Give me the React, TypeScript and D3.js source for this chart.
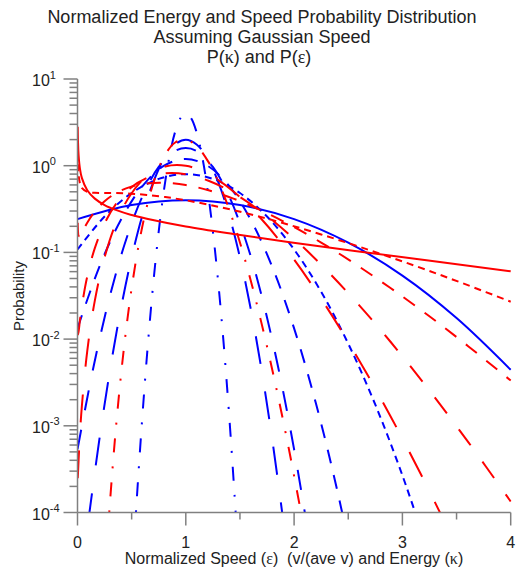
import React from "react";
import * as d3 from "d3";

// ---- Speed distributions P(ε) (blue), one per Gaussian width ----
const speedS100X = [0, 0.5, 1, 1.5, 2, 2.5, 3, 3.5, 4];
const speedS100P = [0.242, 0.352, 0.399, 0.352, 0.242, 0.1295, 0.054, 0.0175, 0.00443];

const speedS050X = [0, 0.25, 0.5, 0.75, 1, 1.25, 1.5, 1.75, 2, 2.25, 2.5, 2.75, 3, 3.25];
const speedS050P = [0.108, 0.259, 0.484, 0.704, 0.798, 0.704, 0.484, 0.259, 0.108, 0.0351, 0.00886, 0.00175, 0.000268, 0.000032];

const speedS033X = [0, 0.2, 0.4, 0.6, 0.8, 1, 1.2, 1.4, 1.6, 1.8, 2, 2.2, 2.4, 2.6];
const speedS033P = [0.0133, 0.0672, 0.237, 0.583, 1.0, 1.197, 1.0, 0.583, 0.237, 0.0672, 0.0133, 0.00184, 0.000176, 0.0000118];

const speedS025X = [0, 0.15, 0.3, 0.45, 0.6, 0.75, 0.9, 1, 1.1, 1.25, 1.4, 1.55, 1.7, 1.85, 2, 2.15];
const speedS025P = [0.000535, 0.00493, 0.0317, 0.142, 0.444, 0.968, 1.473, 1.596, 1.473, 0.968, 0.444, 0.142, 0.0317, 0.00493, 0.000535, 0.0000405];

const speedS020X = [0.1, 0.2, 0.3, 0.4, 0.5, 0.6, 0.7, 0.8, 0.9, 1, 1.1, 1.2, 1.3, 1.4, 1.5, 1.6, 1.7, 1.8, 1.9];
const speedS020P = [0.00008, 0.000669, 0.00437, 0.0222, 0.0876, 0.27, 0.648, 1.21, 1.76, 1.995, 1.76, 1.21, 0.648, 0.27, 0.0876, 0.0222, 0.00437, 0.000669, 0.00008];

const speedS010X = [0.5, 0.55, 0.6, 0.65, 0.7, 0.75, 0.8, 0.85, 0.9, 0.95, 1, 1.05, 1.1, 1.15, 1.2, 1.25, 1.3, 1.35, 1.4, 1.45, 1.5];
const speedS010P = [0.0000149, 0.00016, 0.00134, 0.00874, 0.0443, 0.175, 0.54, 1.295, 2.42, 3.52, 3.989, 3.52, 2.42, 1.295, 0.54, 0.175, 0.0443, 0.00874, 0.00134, 0.00016, 0.0000149];

// ---- Energy distributions P(κ) (red) ----
const energyS100K = [0.002, 0.0049, 0.01, 0.0225, 0.04, 0.09, 0.16, 0.25, 0.36, 0.49, 0.64, 1, 1.44, 1.96, 2.56, 3.24, 4];
const energyS100P = [2.81, 1.85, 1.33, 0.927, 0.724, 0.521, 0.417, 0.352, 0.307, 0.272, 0.245, 0.1995, 0.163, 0.131, 0.104, 0.0806, 0.0605];

const energyK = [0.002, 0.0049, 0.01, 0.0225, 0.04, 0.09, 0.16, 0.25, 0.36, 0.49, 0.64, 0.81, 1, 1.21, 1.44, 1.69, 1.96, 2.25, 2.56, 2.89, 3.24, 3.61, 4];
const energyS050P = [1.43, 1.01, 0.79, 0.627, 0.555, 0.499, 0.486, 0.484, 0.483, 0.476, 0.46, 0.435, 0.399, 0.355, 0.307, 0.257, 0.207, 0.161, 0.121, 0.0879, 0.0617, 0.0416, 0.027];
const energyS033P = [0.22, 0.174, 0.156, 0.154, 0.168, 0.22, 0.296, 0.389, 0.486, 0.57, 0.625, 0.636, 0.599, 0.52, 0.417, 0.307, 0.208, 0.13, 0.0741, 0.0388, 0.0187, 0.00823, 0.00333];
const energyS025P = [0.012, 0.0113, 0.0122, 0.0164, 0.0239, 0.0528, 0.112, 0.216, 0.37, 0.555, 0.724, 0.818, 0.798, 0.67, 0.483, 0.299, 0.159, 0.0721, 0.028, 0.00932, 0.00265, 0.000644, 0.000134];
const energyS020P = [0.000248, 0.000288, 0.0004, 0.00079, 0.00167, 0.00728, 0.0278, 0.0876, 0.225, 0.463, 0.756, 0.978, 0.998, 0.8, 0.504, 0.249, 0.0964, 0.0292, 0.00694, 0.00129, 0.000186, 0.000021];

const energyS010K = [0.25, 0.3025, 0.36, 0.4225, 0.49, 0.5625, 0.64, 0.7225, 0.81, 0.9025, 1, 1.1025, 1.21, 1.3225, 1.44, 1.5625, 1.69, 1.8225, 1.96, 2.1025];
const energyS010P = [0.0000149, 0.000145, 0.00112, 0.00672, 0.0316, 0.117, 0.3375, 0.762, 1.344, 1.853, 1.995, 1.676, 1.1, 0.563, 0.225, 0.07, 0.017, 0.00324, 0.000479, 0.000055];

// ---- Axis ticks ----
const xTickValues = [0, 1, 2, 3, 4];
const xMinorTicks = [0.5, 1.5, 2.5, 3.5];
const yDecadeExponents = [1, 0, -1, -2, -3, -4];

const W = 517;
const H = 575;
const X0 = 77.5;
const X1 = 510.7;
const Y0 = 512.5;
const Y1 = 79;

const BLUE = "#0000ff";
const RED = "#ff0000";
const AXIS = "#808080";
const SANS = "'Liberation Sans', Arial, sans-serif";
const SERIF = "'Liberation Serif', 'Times New Roman', serif";

// dash styles, one per Gaussian width (1, 0.5, 1/3, 0.25, 0.2, 0.1)
const dashStyles = ["", "7,5", "14,12", "20,20", "28,28", "14,14,2,14"];

export default function App() {
  const x = d3.scaleLinear().domain([0, 4]).range([X0, X1]);
  const y = d3.scaleLog().domain([1e-4, 10]).range([Y0, Y1]);

  const line = d3
    .line<[number, number]>()
    .x((d) => x(d[0]))
    .y((d) => y(d[1]))
    .curve(d3.curveCatmullRom.alpha(0.5));

  const zip = (xs: number[], ps: number[]) => xs.map((v, i) => [v, ps[i]] as [number, number]);

  const blueSeries = [
    zip(speedS100X, speedS100P),
    zip(speedS050X, speedS050P),
    zip(speedS033X, speedS033P),
    zip(speedS025X, speedS025P),
    zip(speedS020X, speedS020P),
    zip(speedS010X, speedS010P),
  ];
  const redSeries = [
    zip(energyS100K, energyS100P),
    zip(energyK, energyS050P),
    zip(energyK, energyS033P),
    zip(energyK, energyS025P),
    zip(energyK.slice(0, energyS020P.length), energyS020P),
    zip(energyS010K, energyS010P),
  ];

  const minorY: number[] = [];
  for (let e = -4; e < 1; e++) {
    for (let m = 2; m <= 9; m++) minorY.push(m * Math.pow(10, e));
  }

  return (
    <svg
      width={W}
      height={H}
      style={{ position: "absolute", left: 0, top: 0, background: "#fff" }}
      fontFamily={SANS}
    >
      <defs>
        <clipPath id="plotClip">
          <rect x={X0} y={Y1} width={X1 - X0 + 1} height={Y0 - Y1} />
        </clipPath>
      </defs>
      <rect x={0} y={0} width={W} height={H} fill="#fff" />

      {/* Title */}
      <g fontSize={18} fill="#222" textAnchor="middle">
        <text x={262} y={23}>Normalized Energy and Speed Probability Distribution</text>
        <text x={262} y={43}>Assuming Gaussian Speed</text>
        <text x={259} y={63}>
          P(<tspan fontFamily={SERIF}>κ</tspan>) and P(<tspan fontFamily={SERIF}>ε</tspan>)
        </text>
      </g>

      {/* Curves */}
      <g clipPath="url(#plotClip)" fill="none" strokeWidth={2}>
        {blueSeries.map((s, i) => (
          <path key={"b" + i} d={line(s) || ""} stroke={BLUE} strokeDasharray={dashStyles[i] || undefined} />
        ))}
        {redSeries.map((s, i) => (
          <path key={"r" + i} d={line(s) || ""} stroke={RED} strokeDasharray={dashStyles[i] || undefined} />
        ))}
      </g>

      {/* Y axis */}
      <g stroke={AXIS} strokeWidth={1.5}>
        <line x1={X0} x2={X0} y1={Y1} y2={Y0} />
        {yDecadeExponents.map((e) => (
          <line key={"yM" + e} x1={X0 - 14} x2={X0} y1={y(Math.pow(10, e))} y2={y(Math.pow(10, e))} />
        ))}
        {minorY.map((v, i) => (
          <line key={"ym" + i} x1={X0 - 8} x2={X0} y1={y(v)} y2={y(v)} />
        ))}
      </g>
      <g fill="#222">
        {yDecadeExponents.map((e) => {
          const ty = y(Math.pow(10, e));
          return (
            <text key={"yl" + e} x={32} y={ty + 7} fontSize={16}>
              10
              <tspan fontSize={11} dy={-7.5}>
                {e < 0 ? "-" + Math.abs(e) : String(e)}
              </tspan>
            </text>
          );
        })}
      </g>

      {/* X axis */}
      <g stroke={AXIS} strokeWidth={1.5}>
        <line x1={X0} x2={X1} y1={Y0} y2={Y0} />
        {xTickValues.map((v) => (
          <line key={"xM" + v} x1={x(v)} x2={x(v)} y1={Y0} y2={Y0 + 13} />
        ))}
        {xMinorTicks.map((v) => (
          <line key={"xm" + v} x1={x(v)} x2={x(v)} y1={Y0} y2={Y0 + 7} />
        ))}
      </g>
      <g fill="#222" fontSize={16} textAnchor="middle">
        {xTickValues.map((v) => (
          <text key={"xl" + v} x={x(v)} y={548}>
            {String(v)}
          </text>
        ))}
      </g>

      {/* Axis titles */}
      <text x={294} y={564} fontSize={16} fill="#222" textAnchor="middle" style={{ whiteSpace: "pre" }}>
        Normalized Speed (<tspan fontFamily={SERIF}>ε</tspan>)  (v/(ave v) and Energy (<tspan fontFamily={SERIF}>κ</tspan>)
      </text>
      <text
        transform="translate(24,296) rotate(-90)"
        fontSize={15}
        fill="#222"
        textAnchor="middle"
      >
        Probability
      </text>
    </svg>
  );
}
